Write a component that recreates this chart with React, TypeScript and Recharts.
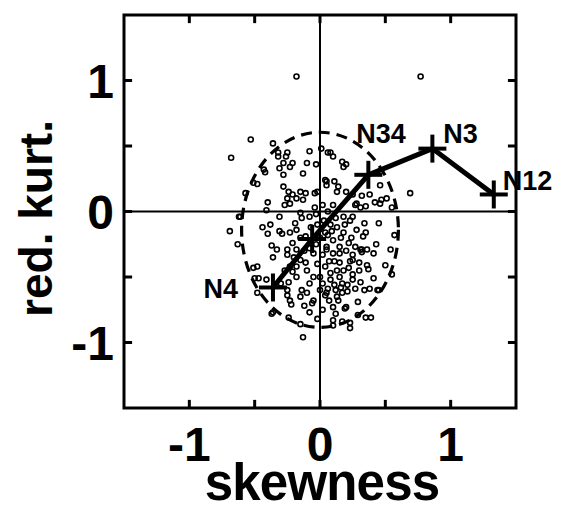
import React from 'react';
import {
  ScatterChart,
  Scatter,
  XAxis,
  YAxis,
  ReferenceLine,
  ReferenceArea,
  Label,
} from 'recharts';

const FONT = '"Liberation Sans", Arial, Helvetica, sans-serif';

// axis ticks (labels only at integers)
const axisTicks = [-1, -0.5, 0, 0.5, 1];
const axisMin = -1.5;
const axisMax = 1.5;
const axisDomain: [number, number] = [axisMin, axisMax];
const xTitle = 'skewness';
const yTitle = 'red. kurt.';

// individual samples: [skewness, reduced kurtosis]
const samplePoints: [number, number][] = [
  [-0.18, 1.03], [0.77, 1.03],
  [-0.53, 0.55], [-0.68, 0.41], [-0.36, 0.52], [-0.08, 0.46], [-0.32, 0.42], [-0.26, 0.42],
  [-0.43, 0.32], [-0.28, 0.37], [-0.21, 0.37], [-0.23, 0.34], [-0.31, 0.33], [-0.28, 0.28],
  [-0.13, 0.29], [-0.1, 0.37], [-0.03, 0.36], [-0.48, 0.21], [-0.57, 0.14], [-0.28, 0.19],
  [-0.21, 0.13], [-0.15, 0.15], [-0.11, 0.14], [-0.04, 0.14], [-0.4, 0.07], [-0.25, 0.1],
  [-0.18, 0.1], [-0.32, 0.45], [-0.25, 0.45], [-0.51, 0.22], [-0.24, 0.15], [-0.13, 0.09],
  [-0.02, 0.15], [-0.42, 0.3],
  [0.06, 0.45], [0.1, 0.42], [0.17, 0.38], [0.2, 0.36], [0.18, 0.34], [0.04, 0.24], [0.11, 0.23],
  [0.05, 0.2], [0.14, 0.19], [0.46, 0.2], [0.69, 0.14], [0.25, 0.13], [0.32, 0.12], [0.38, 0.13],
  [0.42, 0.07], [0.47, 0.09], [0.51, 0.1], [0.55, 0.03], [0.31, 0.03], [0.35, 0.04], [0.02, 0.05],
  [0.01, 0.48], [0.1, 0.05], [0.27, 0.05], [0.46, 0.06], [0.05, 0.23], [0.13, 0.15], [0.2, 0.15],
  [0.28, 0.06], [0.08, 0.45],
  [0.45, -0.09], [0.57, -0.18], [0.33, -0.19], [0.35, -0.16], [0.43, -0.25], [0.54, -0.29],
  [0.32, -0.31], [0.36, -0.29], [0.41, -0.32], [0.5, -0.41], [0.55, -0.48], [0.3, -0.39],
  [0.36, -0.41], [0.37, -0.44], [0.41, -0.51], [0.25, -0.48], [0.31, -0.54], [0.34, -0.6],
  [0.38, -0.59], [0.45, -0.6], [0.27, -0.59], [0.29, -0.69], [0.19, -0.74], [0.1, -0.83],
  [0.23, -0.85], [0.29, -0.79], [0.35, -0.81], [0.39, -0.81], [0.23, -0.89], [0.1, -0.87],
  [0.04, -0.64], [0.14, -0.68], [0.17, -0.62], [0.21, -0.61], [0.11, -0.56], [0.08, -0.52],
  [0.17, -0.55], [0.06, -0.59], [0.25, -0.52], [0.21, -0.56], [0.03, -0.07], [0.08, -0.1],
  [0.18, -0.04], [0.23, -0.07], [0.28, -0.14], [0.31, -0.29], [0.25, -0.33], [0.23, -0.38],
  [0.15, -0.39], [0.13, -0.45], [0.22, -0.24], [0.24, -0.2], [0.18, -0.16], [0.15, -0.27],
  [0.1, -0.32], [0.05, -0.29], [0.1, -0.22], [0.13, -0.12], [0.04, -0.16], [0.04, -0.42],
  [0.08, -0.47], [0.25, -0.04], [0.34, -0.09], [0.05, -0.27], [0.15, -0.32], [0.25, -0.37],
  [0.32, -0.29], [0.15, -0.5], [0.13, -0.65], [0.05, -0.62], [0.1, -0.73], [0.2, -0.73],
  [0.44, -0.6],
  [-0.69, -0.15], [-0.63, -0.25], [-0.51, -0.43], [-0.5, -0.51], [-0.47, -0.51], [-0.41, -0.52],
  [-0.48, -0.62], [-0.37, -0.78], [-0.24, -0.81], [-0.13, -0.96], [-0.15, -0.86], [-0.62, -0.04],
  [-0.44, -0.12], [-0.38, -0.1], [-0.4, -0.17], [-0.29, -0.17], [-0.37, -0.26], [-0.33, -0.29],
  [-0.36, -0.35], [-0.25, -0.33], [-0.21, -0.24], [-0.23, -0.16], [-0.19, -0.09], [-0.14, -0.05],
  [-0.11, -0.19], [-0.05, -0.5], [-0.06, -0.7], [-0.15, -0.65], [-0.14, -0.6], [-0.25, -0.64],
  [-0.22, -0.71], [-0.21, -0.46], [-0.18, -0.5], [-0.24, -0.54], [-0.18, -0.42], [-0.11, -0.39],
  [-0.05, -0.32], [-0.41, 0.01], [-0.27, 0.05], [-0.23, 0.06], [-0.04, 0.03], [-0.61, -0.04],
  [-0.31, -0.04], [-0.15, -0.01], [-0.08, -0.04], [-0.31, -0.15], [-0.18, -0.14], [-0.25, -0.29],
  [-0.18, -0.29], [-0.48, -0.42], [-0.23, -0.42], [-0.15, -0.37], [-0.05, -0.68], [-0.23, -0.68],
  [-0.25, -0.6], [-0.36, -0.77], [-0.08, -0.77],
  [-0.02, -0.1], [0.0, -0.2], [-0.03, -0.25], [0.02, -0.33], [-0.08, -0.28], [-0.1, -0.45],
  [-0.02, -0.4], [0.0, -0.5], [0.02, -0.55], [-0.08, -0.55], [-0.12, -0.3], [0.07, -0.38],
  [0.12, -0.05], [0.16, -0.2], [0.2, -0.3], [0.18, -0.45], [0.22, -0.43], [0.12, -0.6],
  [0.0, -0.6], [-0.1, -0.62], [-0.03, -0.02], [0.06, 0.0], [-0.07, -0.12], [0.09, -0.15],
  [0.19, -0.1], [-0.15, -0.2], [-0.2, -0.35], [-0.27, -0.45], [-0.3, -0.55], [0.27, -0.27],
  [0.3, -0.45], [0.12, -0.78], [-0.02, -0.82], [0.02, -0.75], [0.07, -0.68], [-0.12, -0.72],
  [0.17, -0.84], [0.06, -0.18], [0.11, -0.38], [0.16, -0.58],
];

// averaged track
const trackNames = ['N4', '', 'N34', 'N3', 'N12'];
const trackSkewness = [-0.36, -0.06, 0.37, 0.86, 1.33];
const trackKurtosis = [-0.58, -0.21, 0.28, 0.48, 0.13];

// dashed confidence ellipse (centre and half-axes in data units)
const ellipseCenterX = 0;
const ellipseCenterY = -0.14;
const ellipseHalfX = 0.6;
const ellipseHalfY = 0.745;

const sampleData = samplePoints.map(([x, y]) => ({ x, y }));
const trackData = trackNames.map((name, i) => ({
  name,
  x: trackSkewness[i],
  y: trackKurtosis[i],
}));

const labelPlacement: Record<string, { dx: number; dy: number; anchor: 'start' | 'end' }> = {
  N4: { dx: -35, dy: 11, anchor: 'end' },
  N34: { dx: -12, dy: -32, anchor: 'start' },
  N3: { dx: 11, dy: -6, anchor: 'start' },
  N12: { dx: 9, dy: -4, anchor: 'start' },
};

// inward tick length, in axis units (about 8 px)
const TICK_UNITS = 0.062;
const isMajor = (v: number) => Number.isInteger(v);

const BottomTick = (props: any) => {
  const { x, y, payload } = props;
  const v = payload?.value;
  if (!isMajor(v)) return <g />;
  return (
    <text x={x} y={y + 53} textAnchor="middle" fontFamily={FONT} fontWeight="bold" fontSize={48} fill="#000">
      {String(v)}
    </text>
  );
};

const LeftTick = (props: any) => {
  const { x, y, payload } = props;
  const v = payload?.value;
  if (!isMajor(v)) return <g />;
  return (
    <text x={x - 10} y={y + 17} textAnchor="end" fontFamily={FONT} fontWeight="bold" fontSize={48} fill="#000">
      {String(v)}
    </text>
  );
};

const RingShape = (props: any) => {
  const { cx, cy } = props;
  if (cx == null || cy == null) return null;
  return <circle cx={cx} cy={cy} r={2.5} fill="none" stroke="#000" strokeWidth={1.6} />;
};

const CrossShape = (props: any) => {
  const { cx, cy, payload } = props;
  if (cx == null || cy == null) return null;
  const h = 14;
  const name: string = payload?.name ?? '';
  const pl = labelPlacement[name];
  return (
    <g>
      <line x1={cx - h} y1={cy} x2={cx + h} y2={cy} stroke="#000" strokeWidth={4} />
      <line x1={cx} y1={cy - h} x2={cx} y2={cy + h} stroke="#000" strokeWidth={4} />
      {pl && name ? (
        <text
          x={cx + pl.dx}
          y={cy + pl.dy}
          textAnchor={pl.anchor}
          fontFamily={FONT}
          fontWeight="bold"
          fontSize={27}
          fill="#000"
        >
          {name}
        </text>
      ) : null}
    </g>
  );
};

const EllipseShape = (props: any) => {
  const { x, y, width, height } = props;
  if (x == null || y == null) return null;
  return (
    <ellipse
      cx={x + width / 2}
      cy={y + height / 2}
      rx={Math.abs(width) / 2}
      ry={Math.abs(height) / 2}
      fill="none"
      stroke="#000"
      strokeWidth={3.2}
      strokeDasharray="11 7"
    />
  );
};

const tickSegs: { key: string; seg: [{ x: number; y: number }, { x: number; y: number }] }[] = [];
axisTicks.forEach((t) => {
  tickSegs.push({ key: `b${t}`, seg: [{ x: t, y: axisMin }, { x: t, y: axisMin + TICK_UNITS }] });
  tickSegs.push({ key: `t${t}`, seg: [{ x: t, y: axisMax }, { x: t, y: axisMax - TICK_UNITS }] });
  tickSegs.push({ key: `l${t}`, seg: [{ x: axisMin, y: t }, { x: axisMin + TICK_UNITS, y: t }] });
  tickSegs.push({ key: `r${t}`, seg: [{ x: axisMax, y: t }, { x: axisMax - TICK_UNITS, y: t }] });
});

export default function App() {
  return (
    <div style={{ position: 'absolute', left: 0, top: 0, width: 561, height: 515, background: '#fff' }}>
      <ScatterChart width={561} height={515} margin={{ top: 15, right: 45, bottom: 0, left: 0 }}>
        <XAxis
          xAxisId="b"
          type="number"
          dataKey="x"
          domain={axisDomain}
          ticks={axisTicks}
          interval={0}
          tickSize={0}
          tickMargin={0}
          height={107}
          axisLine={false}
          tickLine={false}
          tick={BottomTick}
        >
          <Label
            content={(p: any) => {
              const vb = p.viewBox || {};
              return (
                <text
                  x={vb.x + vb.width / 2 + 2}
                  y={vb.y + 92}
                  textAnchor="middle"
                  fontFamily={FONT}
                  fontWeight="bold"
                  fontSize={51}
                  letterSpacing={-0.8}
                  fill="#000"
                >
                  {xTitle}
                </text>
              );
            }}
          />
        </XAxis>
        <YAxis
          yAxisId="l"
          type="number"
          dataKey="y"
          domain={axisDomain}
          ticks={axisTicks}
          interval={0}
          tickSize={0}
          tickMargin={0}
          width={124}
          axisLine={false}
          tickLine={false}
          tick={LeftTick}
        >
          <Label
            content={(p: any) => {
              const vb = p.viewBox || {};
              const cx = 52;
              const cy = vb.y + vb.height / 2 + 7;
              return (
                <text
                  x={cx}
                  y={cy}
                  transform={`rotate(-90 ${cx} ${cy})`}
                  textAnchor="middle"
                  fontFamily={FONT}
                  fontWeight="bold"
                  fontSize={46}
                  fill="#000"
                >
                  {yTitle}
                </text>
              );
            }}
          />
        </YAxis>
        <ReferenceLine xAxisId="b" yAxisId="l" x={0} stroke="#000" strokeWidth={2} />
        <ReferenceLine xAxisId="b" yAxisId="l" y={0} stroke="#000" strokeWidth={2} />
        <ReferenceArea
          xAxisId="b"
          yAxisId="l"
          x1={ellipseCenterX - ellipseHalfX}
          x2={ellipseCenterX + ellipseHalfX}
          y1={ellipseCenterY - ellipseHalfY}
          y2={ellipseCenterY + ellipseHalfY}
          shape={EllipseShape}
        />
        <Scatter
          xAxisId="b"
          yAxisId="l"
          data={sampleData}
          shape={RingShape}
          isAnimationActive={false}
        />
        <Scatter
          xAxisId="b"
          yAxisId="l"
          data={trackData}
          shape={CrossShape}
          line={{ stroke: '#000', strokeWidth: 5 }}
          lineJointType="linear"
          isAnimationActive={false}
        />
        {tickSegs.map((s) => (
          <ReferenceLine
            key={s.key}
            xAxisId="b"
            yAxisId="l"
            segment={s.seg}
            stroke="#000"
            strokeWidth={3}
            ifOverflow="visible"
          />
        ))}
        <ReferenceArea
          xAxisId="b"
          yAxisId="l"
          x1={axisMin}
          x2={axisMax}
          y1={axisMin}
          y2={axisMax}
          fill="none"
          fillOpacity={0}
          stroke="#000"
          strokeWidth={3}
          strokeOpacity={1}
          ifOverflow="visible"
        />
      </ScatterChart>
    </div>
  );
}
